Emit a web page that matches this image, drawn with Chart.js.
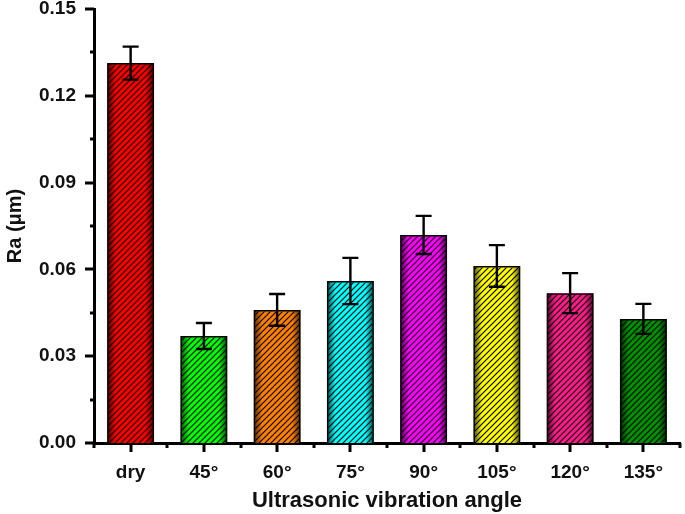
<!DOCTYPE html>
<html>
<head>
<meta charset="utf-8">
<style>
  html, body { margin: 0; padding: 0; background: #fff; }
  #wrap { width: 685px; height: 514px; position: relative; }
</style>
</head>
<body>
<div id="wrap"><canvas id="raChart"></canvas></div>

<script src="https://cdn.jsdelivr.net/npm/chart.js"></script>
<script>
// Dados
const angles = ['dry', '45°', '60°', '75°', '90°', '105°', '120°', '135°'];
const ra = [0.1313, 0.0370, 0.0460, 0.0560, 0.0719, 0.0612, 0.0518, 0.0429];
const raErr = [0.0057, 0.0045, 0.0055, 0.0080, 0.0066, 0.0072, 0.0069, 0.0052];
const barColors = ['#ff0000', '#00ff00', '#ff8000', '#00ffff', '#ff00ff', '#ffff00', '#ff1a8c', '#009000'];
const yTickLabels = ['0.00', '0.03', '0.06', '0.09', '0.12', '0.15'];

const FONT = '"Liberation Sans", Arial, sans-serif';
const BAR_PCT = 0.64;

function darker(hex, f) {
  const n = parseInt(hex.slice(1), 16);
  const r = Math.round(((n >> 16) & 255) * f);
  const g = Math.round(((n >> 8) & 255) * f);
  const b = Math.round((n & 255) * f);
  return `rgb(${r},${g},${b})`;
}

// degradê horizontal em cada barra
function barFill(ctx) {
  const chart = ctx.chart;
  const xs = chart.scales.x;
  const base = barColors[ctx.dataIndex] || '#888';
  if (!xs || ctx.type !== 'data' || !isFinite(xs.width)) return base;
  const cx = xs.getPixelForValue(ctx.dataIndex);
  const w = xs.width / angles.length * BAR_PCT;
  const g = chart.ctx.createLinearGradient(cx - w / 2, 0, cx + w / 2, 0);
  g.addColorStop(0, darker(base, 0.3));
  g.addColorStop(0.18, base);
  g.addColorStop(0.82, base);
  g.addColorStop(1, darker(base, 0.3));
  return g;
}

// hachura diagonal
function hatchPattern() {
  const c = document.createElement('canvas');
  c.width = 6; c.height = 6;
  const p = c.getContext('2d');
  p.strokeStyle = '#000';
  p.lineWidth = 1.15;
  p.beginPath();
  p.moveTo(-1, 7); p.lineTo(7, -1);
  p.moveTo(-4, 4); p.lineTo(4, -4);
  p.moveTo(2, 10); p.lineTo(10, 2);
  p.stroke();
  return p.createPattern(c, 'repeat');
}

// barras de erro
const errorBars = {
  id: 'errorBars',
  afterDatasetsDraw(chart) {
    const { ctx, scales: { x, y } } = chart;
    ctx.save();
    ctx.strokeStyle = '#000';
    ctx.lineWidth = 2.4;
    ra.forEach((v, i) => {
      const cx = x.getPixelForValue(i);
      const top = y.getPixelForValue(v + raErr[i]);
      const bot = y.getPixelForValue(v - raErr[i]);
      const cap = 8;
      ctx.beginPath();
      ctx.moveTo(cx, top); ctx.lineTo(cx, bot);
      ctx.moveTo(cx - cap, top); ctx.lineTo(cx + cap, top);
      ctx.moveTo(cx - cap, bot); ctx.lineTo(cx + cap, bot);
      ctx.stroke();
    });
    ctx.restore();
  }
};

// marcas dos eixos (maiores e menores, para fora)
const axisTicks = {
  id: 'axisTicks',
  afterDraw(chart) {
    const { ctx, scales: { x, y } } = chart;
    ctx.save();
    ctx.strokeStyle = '#000';
    ctx.lineWidth = 3;
    ctx.beginPath();
    y.ticks.forEach(t => {
      const py = Math.round(y.getPixelForValue(t.value));
      const len = t.label ? 9 : 4;
      ctx.moveTo(y.right, py); ctx.lineTo(y.right - len, py);
    });
    const x0 = x.top;
    angles.forEach((a, i) => {
      const px = Math.round(x.getPixelForValue(i));
      ctx.moveTo(px, x0); ctx.lineTo(px, x0 + 9);
    });
    for (let i = 0; i <= angles.length; i++) {
      const px = Math.round(x.getPixelForValue(i - 0.5));
      ctx.moveTo(px, x0); ctx.lineTo(px, x0 + 5);
    }
    ctx.stroke();
    ctx.restore();
  }
};

function initChart() {
  const ctx = document.getElementById('raChart').getContext('2d');
  new Chart(ctx, {
    type: 'bar',
    data: {
      labels: angles,
      datasets: [
        {
          label: 'hatch',
          data: ra,
          backgroundColor: hatchPattern(),
          borderColor: '#000',
          borderWidth: 1.5,
          grouped: false,
          categoryPercentage: 1,
          barPercentage: BAR_PCT
        },
        {
          label: 'Ra',
          data: ra,
          backgroundColor: barFill,
          borderWidth: 0,
          grouped: false,
          categoryPercentage: 1,
          barPercentage: BAR_PCT
        }
      ]
    },
    options: {
      responsive: true,
      maintainAspectRatio: false,
      animation: false,
      layout: { padding: { top: 9, right: 5, bottom: 0, left: 0 } },
      plugins: { legend: { display: false }, tooltip: { enabled: false } },
      scales: {
        x: {
          grid: { display: false, drawTicks: false },
          border: { display: true, color: '#000', width: 3 },
          ticks: { color: '#111', padding: 18, font: { family: FONT, size: 19, weight: 'bold' } },
          title: {
            display: true, text: 'Ultrasonic vibration angle', color: '#111',
            font: { family: FONT, size: 22, weight: 'bold' }, padding: { top: 0, bottom: 0 }
          },
          afterFit(s) { s.height = 71; s.paddingLeft = 0; s.paddingRight = 0; }
        },
        y: {
          min: 0, max: 0.15,
          grid: { display: false, drawTicks: false },
          border: { display: true, color: '#000', width: 3 },
          ticks: {
            stepSize: 0.015, autoSkip: false, color: '#111', padding: 18,
            font: { family: FONT, size: 19, weight: 'bold' },
            callback: v => {
              const k = Math.round(v / 0.03 * 2);
              return k % 2 === 0 ? yTickLabels[k / 2] : '';
            }
          },
          title: {
            display: true, text: 'Ra (μm)', color: '#111',
            font: { family: FONT, size: 20, weight: 'bold' }, padding: { top: 3, bottom: 0 }
          },
          afterFit(s) { s.width = 94; s.paddingTop = 0; s.paddingBottom = 0; }
        }
      }
    },
    plugins: [errorBars, axisTicks]
  });
}

document.addEventListener('DOMContentLoaded', initChart);
</script>
</body>
</html>
